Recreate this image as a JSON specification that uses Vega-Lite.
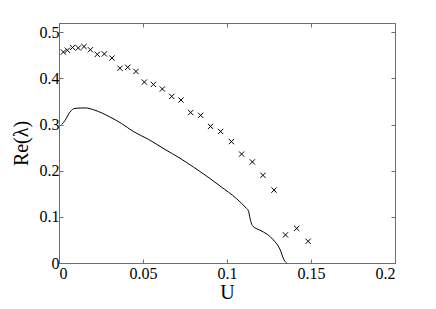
{
  "$schema": "https://vega.github.io/schema/vega-lite/v6.json",
  "autosize": {"type": "none"},
  "padding": {"left": 59, "top": 23, "right": 41, "bottom": 46},
  "width": 336,
  "height": 240,
  "background": "white",
  "config": {
    "view": {"stroke": "#6e6e6e", "strokeWidth": 1},
    "font": "Liberation Serif",
    "axis": {
      "grid": false,
      "domainColor": "#6e6e6e",
      "tickColor": "#6e6e6e",
      "tickSize": -4,
      "labelFont": "Liberation Serif",
      "labelFontSize": 16,
      "labelColor": "black",
      "titleFont": "Liberation Serif",
      "titleFontSize": 20,
      "titleFontWeight": "normal",
      "titleColor": "black"
    }
  },
  "datasets": {
    "curve": [
      {"U": 0.0016, "re": 0.300},
      {"U": 0.0036, "re": 0.309},
      {"U": 0.0065, "re": 0.327},
      {"U": 0.0095, "re": 0.335},
      {"U": 0.0155, "re": 0.336},
      {"U": 0.0214, "re": 0.331},
      {"U": 0.0300, "re": 0.317},
      {"U": 0.0373, "re": 0.302},
      {"U": 0.0442, "re": 0.285},
      {"U": 0.0532, "re": 0.268},
      {"U": 0.0631, "re": 0.246},
      {"U": 0.0720, "re": 0.227},
      {"U": 0.0800, "re": 0.208},
      {"U": 0.0880, "re": 0.188},
      {"U": 0.0958, "re": 0.167},
      {"U": 0.1058, "re": 0.139},
      {"U": 0.1117, "re": 0.118},
      {"U": 0.1127, "re": 0.114},
      {"U": 0.1137, "re": 0.097},
      {"U": 0.1151, "re": 0.081},
      {"U": 0.1196, "re": 0.071},
      {"U": 0.1240, "re": 0.062},
      {"U": 0.1276, "re": 0.050},
      {"U": 0.1315, "re": 0.030},
      {"U": 0.1339, "re": 0.007},
      {"U": 0.1355, "re": 0.0}
    ],
    "pts": [
      {"U": 0.0026, "re": 0.457},
      {"U": 0.0050, "re": 0.461},
      {"U": 0.0081, "re": 0.467},
      {"U": 0.0115, "re": 0.466},
      {"U": 0.0149, "re": 0.469},
      {"U": 0.0187, "re": 0.462},
      {"U": 0.0228, "re": 0.452},
      {"U": 0.0270, "re": 0.453},
      {"U": 0.0315, "re": 0.444},
      {"U": 0.0363, "re": 0.422},
      {"U": 0.0409, "re": 0.424},
      {"U": 0.0458, "re": 0.415},
      {"U": 0.0508, "re": 0.392},
      {"U": 0.0562, "re": 0.387},
      {"U": 0.0615, "re": 0.377},
      {"U": 0.0671, "re": 0.361},
      {"U": 0.0726, "re": 0.353},
      {"U": 0.0784, "re": 0.326},
      {"U": 0.0843, "re": 0.320},
      {"U": 0.0902, "re": 0.296},
      {"U": 0.0962, "re": 0.285},
      {"U": 0.1026, "re": 0.263},
      {"U": 0.1087, "re": 0.236},
      {"U": 0.1151, "re": 0.219},
      {"U": 0.1214, "re": 0.190},
      {"U": 0.1280, "re": 0.158},
      {"U": 0.1348, "re": 0.061},
      {"U": 0.1415, "re": 0.075},
      {"U": 0.1483, "re": 0.047}
    ]
  },
  "layer": [
    {
      "data": {"name": "curve"},
      "mark": {"type": "line", "color": "black", "strokeWidth": 1, "interpolate": "monotone"},
      "encoding": {
        "x": {
          "field": "U",
          "type": "quantitative",
          "scale": {"domain": [0, 0.2], "nice": false, "zero": false},
          "axis": {"orient": "bottom", "values": [0, 0.05, 0.1, 0.15, 0.2], "format": "~g", "title": "U", "labelPadding": 6, "titlePadding": 1}
        },
        "y": {
          "field": "re",
          "type": "quantitative",
          "scale": {"domain": [0, 0.52], "nice": false, "zero": false},
          "axis": {"orient": "left", "values": [0, 0.1, 0.2, 0.3, 0.4, 0.5], "format": "~g", "title": "Re(λ)", "labelPadding": 4, "titlePadding": 8}
        }
      }
    },
    {
      "data": {"name": "pts"},
      "mark": {"type": "point", "shape": "M-1,-1L1,1M-1,1L1,-1", "filled": false, "color": "black", "strokeWidth": 1, "size": 28, "opacity": 1},
      "encoding": {
        "x": {"field": "U", "type": "quantitative", "scale": {"domain": [0, 0.2], "nice": false, "zero": false}, "axis": {"orient": "top", "values": [0, 0.05, 0.1, 0.15, 0.2], "labels": false, "title": null, "domain": false}},
        "y": {"field": "re", "type": "quantitative", "scale": {"domain": [0, 0.52], "nice": false, "zero": false}, "axis": {"orient": "right", "values": [0, 0.1, 0.2, 0.3, 0.4, 0.5], "labels": false, "title": null, "domain": false}}
      }
    }
  ],
  "resolve": {"axis": {"x": "independent", "y": "independent"}}
}
